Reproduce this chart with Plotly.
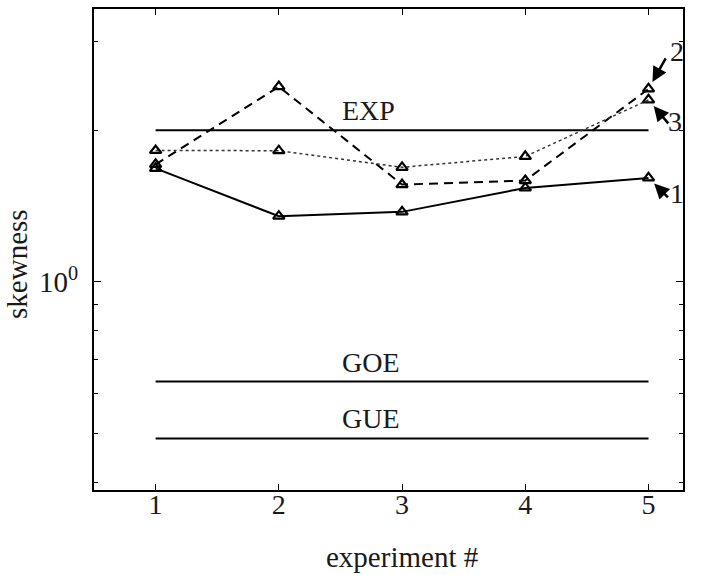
import math
import plotly.graph_objects as go

# experiment index
experiments = [1, 2, 3, 4, 5]

# measured skewness for the three data sets
skew_1 = [1.68, 1.35, 1.377, 1.536, 1.608]
skew_2 = [1.711, 2.44, 1.56, 1.589, 2.415]
skew_3 = [1.823, 1.821, 1.688, 1.774, 2.297]

# reference values of the theoretical distributions
ref_names = ["EXP", "GOE", "GUE"]
ref_values = [2.0, 0.634, 0.489]

# axis ticks
x_ticks = [1, 2, 3, 4, 5]
y_major = [1]
y_major_text = ["10<sup>0</sup>"]
y_minor = [0.4, 0.5, 0.6, 0.7, 0.8, 0.9, 2, 3]

FONT = "Liberation Serif, Times New Roman, serif"
INK = "#1a1a1a"

fig = go.Figure()

# theoretical reference levels
for name, val in zip(ref_names, ref_values):
    fig.add_trace(go.Scatter(
        x=[experiments[0], experiments[-1]], y=[val, val], mode="lines",
        line=dict(color="black", width=2), showlegend=False, hoverinfo="skip"))
    # annotations on a log axis take log10 coordinates
    fig.add_annotation(x=2.5, y=math.log10(val), text=name, showarrow=False,
                       xanchor="left", yanchor="bottom", yshift=2,
                       font=dict(family=FONT, size=28, color=INK))

series = [
    (skew_1, dict(color="black", width=2)),
    (skew_2, dict(color="black", width=2, dash="9px,6px")),
    (skew_3, dict(color="#333333", width=1.5, dash="dot")),
]
for vals, line in series:
    fig.add_trace(go.Scatter(
        x=experiments, y=vals, mode="lines+markers", line=line,
        marker=dict(symbol="triangle-up-open", size=10, color="black",
                    line=dict(width=2.2, color="black")),
        showlegend=False))

# numbered pointers at the last experiment
pointers = [
    ("1", skew_1[-1], 21, 21, 28, -16),
    ("2", skew_2[-1], 18, -32, 28, 37),
    ("3", skew_3[-1], 21, 25, 26, -22),
]
for label, yv, ax, ay, xs, ys in pointers:
    ylog = math.log10(yv)
    fig.add_annotation(x=5, y=ylog, text="", showarrow=True, ax=ax, ay=ay,
                       axref="pixel", ayref="pixel", arrowhead=2, arrowsize=1.2,
                       arrowwidth=2.5, arrowcolor="black", standoff=8)
    fig.add_annotation(x=5, y=ylog, text=label, showarrow=False,
                       xshift=xs, yshift=ys,
                       font=dict(family=FONT, size=28, color=INK))

# axis titles
fig.add_annotation(x=3, y=0, xref="x", yref="paper", text="experiment #",
                   showarrow=False, yanchor="middle", yshift=-67,
                   font=dict(family=FONT, size=29, color=INK))
fig.add_annotation(x=0, y=0.47, xref="paper", yref="paper", text="skewness",
                   showarrow=False, textangle=-90, xanchor="center",
                   xshift=-77, font=dict(family=FONT, size=29, color=INK))

fig.update_xaxes(
    range=[0.5, 5.28], tickvals=x_ticks, ticks="inside", ticklen=6,
    tickwidth=1, tickcolor="black", showline=True, linecolor="black",
    linewidth=2, mirror="ticks", showgrid=False, zeroline=False,
    ticklabelstandoff=-12,
    tickfont=dict(family=FONT, size=28, color=INK))

fig.update_yaxes(
    type="log", range=[-0.413, 0.5415], tickvals=y_major, ticktext=y_major_text,
    ticks="inside", ticklen=7, tickwidth=1, tickcolor="black",
    minor=dict(tickvals=y_minor, ticks="inside", ticklen=4, tickcolor="black"),
    showline=True, linecolor="black", linewidth=2, mirror="ticks",
    showgrid=False, zeroline=False, ticklabelstandoff=8,
    tickfont=dict(family=FONT, size=29, color=INK))

fig.update_layout(
    width=704, height=575, plot_bgcolor="white", paper_bgcolor="white",
    margin=dict(l=94, r=21, t=7, b=85), showlegend=False)

fig.write_html("out.html")
